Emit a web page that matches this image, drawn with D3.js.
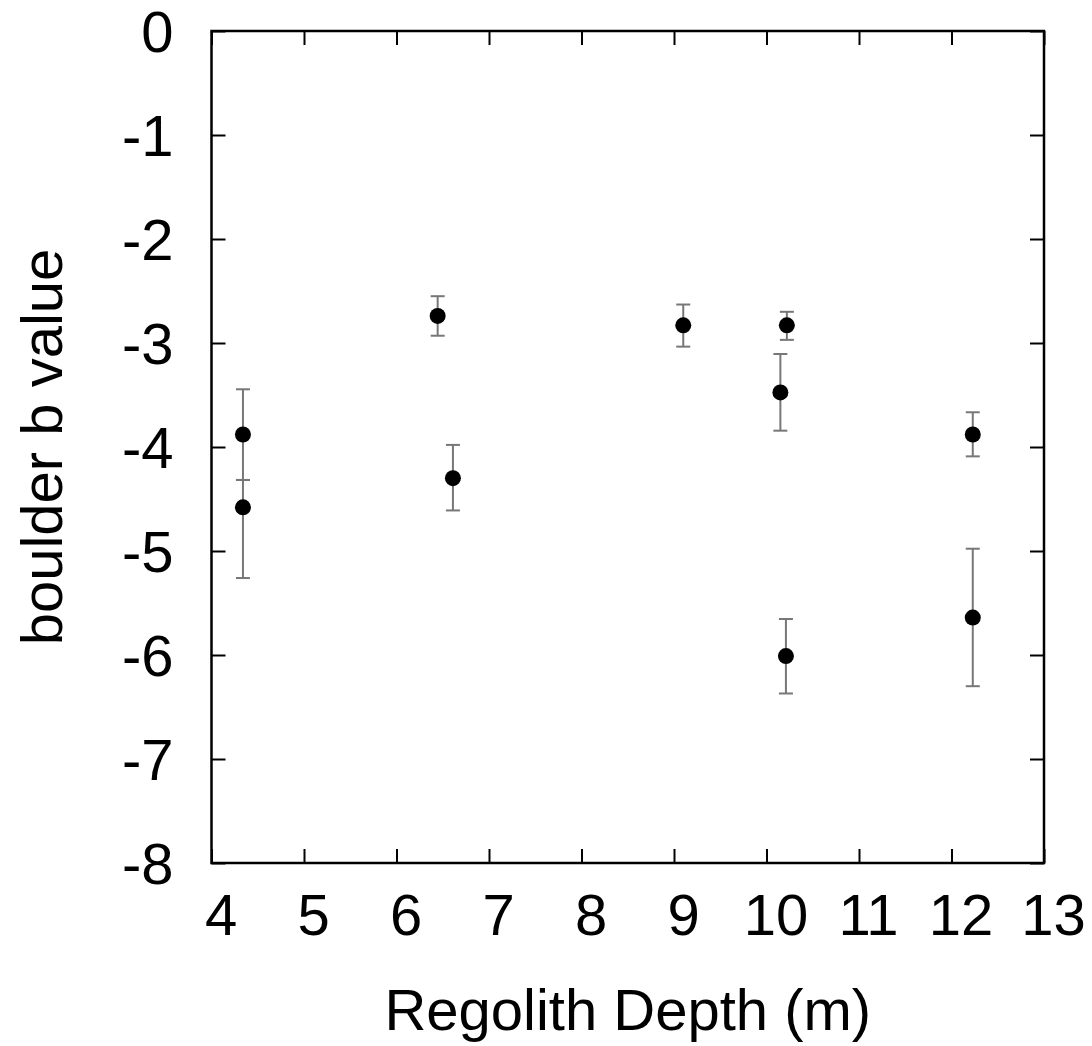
<!DOCTYPE html>
<html>
<head>
<meta charset="utf-8">
<script src="https://cdn.jsdelivr.net/npm/d3@7"></script>
<style>
  body { margin: 0; background: #fff; }
  text { font-family: "Liberation Sans", Arial, sans-serif; fill: #000; }
</style>
</head>
<body>
<svg width="1092" height="1046"></svg>
<script>
// données
const depth = [4.34, 4.34, 6.445, 6.61, 9.10, 10.22, 10.15, 10.21, 12.23, 12.23];
const bValue = [-3.88, -4.58, -2.74, -4.30, -2.83, -2.83, -3.475, -6.01, -3.88, -5.64];
const errHigh = [-3.445, -4.317, -2.55, -3.98, -2.63, -2.70, -3.106, -5.654, -3.666, -4.978];
const errLow = [-4.317, -5.26, -2.93, -4.61, -3.035, -2.97, -3.843, -6.37, -4.09, -6.30];
const xTicks = [4, 5, 6, 7, 8, 9, 10, 11, 12, 13];
const yTicks = [0, -1, -2, -3, -4, -5, -6, -7, -8];

const data = depth.map((d, i) => ({ x: d, y: bValue[i], hi: errHigh[i], lo: errLow[i] }));

// cadre du graphique
const plotLeft = 211.5, plotRight = 1044, plotTop = 31, plotBottom = 863;
const fontSize = 58;

const svg = d3.select("svg");

const xScale = d3.scaleLinear().domain([4, 13]).range([plotLeft, plotRight]);
const yScale = d3.scaleLinear().domain([-8, 0]).range([plotBottom, plotTop]);

const tickLen = 14;
const fmt = d => String(d); // tiret simple, comme gnuplot

// axes (ticks vers l'intérieur, miroir en haut et à droite)
const gx = svg.append("g").attr("transform", `translate(0,${plotBottom})`)
    .call(d3.axisBottom(xScale).tickValues(xTicks).tickSize(-tickLen).tickPadding(0).tickFormat(fmt));
const gxTop = svg.append("g").attr("transform", `translate(0,${plotTop})`)
    .call(d3.axisTop(xScale).tickValues(xTicks).tickSize(-tickLen).tickFormat(""));
const gy = svg.append("g").attr("transform", `translate(${plotLeft},0)`)
    .call(d3.axisLeft(yScale).tickValues(yTicks).tickSize(-tickLen).tickPadding(0).tickFormat(fmt));
const gyRight = svg.append("g").attr("transform", `translate(${plotRight},0)`)
    .call(d3.axisRight(yScale).tickValues(yTicks).tickSize(-tickLen).tickFormat(""));

[gx, gxTop, gy, gyRight].forEach(g => {
    g.select(".domain").remove();
    g.selectAll(".tick line").attr("stroke", "#000").attr("stroke-width", 2);
});

gx.selectAll(".tick text")
    .attr("x", 9).attr("y", 72).attr("dy", null)
    .style("font-size", fontSize + "px");
gy.selectAll(".tick text")
    .attr("x", -38).attr("dy", "0.36em")
    .style("font-size", fontSize + "px");

// bordure
svg.append("rect")
    .attr("x", plotLeft).attr("y", plotTop)
    .attr("width", plotRight - plotLeft).attr("height", plotBottom - plotTop)
    .attr("fill", "none").attr("stroke", "#000").attr("stroke-width", 2.5);

// barres d'erreur
const capW = 7;
const eb = svg.append("g").attr("stroke", "#777").attr("stroke-width", 2);
eb.selectAll(".err").data(data).enter().append("line")
    .attr("x1", d => xScale(d.x)).attr("x2", d => xScale(d.x))
    .attr("y1", d => yScale(d.hi)).attr("y2", d => yScale(d.lo));
eb.selectAll(".capHi").data(data).enter().append("line")
    .attr("x1", d => xScale(d.x) - capW).attr("x2", d => xScale(d.x) + capW)
    .attr("y1", d => yScale(d.hi)).attr("y2", d => yScale(d.hi));
eb.selectAll(".capLo").data(data).enter().append("line")
    .attr("x1", d => xScale(d.x) - capW).attr("x2", d => xScale(d.x) + capW)
    .attr("y1", d => yScale(d.lo)).attr("y2", d => yScale(d.lo));

// points
svg.selectAll(".pt").data(data).enter().append("circle")
    .attr("cx", d => xScale(d.x))
    .attr("cy", d => yScale(d.y))
    .attr("r", 8)
    .attr("fill", "#000");

// titres des axes
svg.append("text")
    .attr("x", (plotLeft + plotRight) / 2).attr("y", 1030)
    .attr("text-anchor", "middle")
    .style("font-size", fontSize + "px")
    .text("Regolith Depth (m)");

svg.append("text")
    .attr("transform", `translate(62,${(plotTop + plotBottom) / 2}) rotate(-90)`)
    .attr("text-anchor", "middle")
    .style("font-size", fontSize + "px")
    .text("boulder b value");
</script>
</body>
</html>
